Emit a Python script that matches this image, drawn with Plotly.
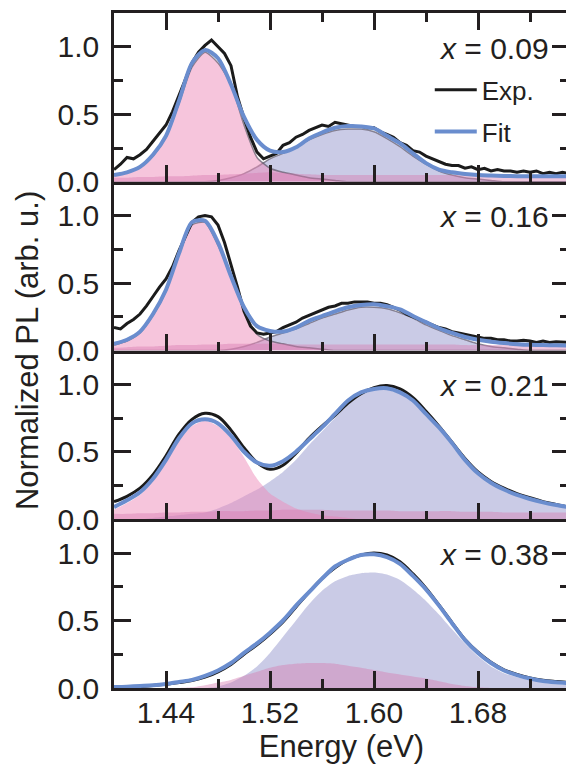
import plotly.graph_objects as go
from plotly.subplots import make_subplots

# ---------------- data ----------------
energy = [1.40, 1.41, 1.42, 1.43, 1.44, 1.45, 1.46, 1.47, 1.48, 1.49,
          1.50, 1.51, 1.52, 1.53, 1.54, 1.55, 1.56, 1.57, 1.58, 1.59,
          1.60, 1.61, 1.62, 1.63, 1.64, 1.65, 1.66, 1.67, 1.68, 1.69,
          1.70, 1.71, 1.72, 1.73, 1.74, 1.75]

energy_fine = [1.400, 1.405, 1.410, 1.415, 1.420, 1.425, 1.430, 1.435, 1.440, 1.445,
               1.450, 1.455, 1.460, 1.465, 1.470, 1.475, 1.480, 1.485, 1.490, 1.495,
               1.500, 1.505, 1.510, 1.515, 1.520, 1.525, 1.530, 1.535, 1.540, 1.545,
               1.550, 1.555, 1.560, 1.565, 1.570, 1.575, 1.580, 1.585, 1.590, 1.595,
               1.600, 1.605, 1.610, 1.615, 1.620, 1.625, 1.630, 1.635, 1.640, 1.645,
               1.650, 1.655, 1.660, 1.665, 1.670, 1.675, 1.680, 1.685, 1.690, 1.695,
               1.700, 1.705, 1.710, 1.715, 1.720, 1.725, 1.730, 1.735, 1.740, 1.745,
               1.750]

labels = ["0.09", "0.16", "0.21", "0.38"]

# x = 0.09
exp_009 = [0.09, 0.13, 0.18, 0.17, 0.20, 0.24, 0.30, 0.36, 0.42, 0.52,
           0.64, 0.76, 0.88, 0.96, 1.01, 1.05, 1.00, 0.95, 0.86, 0.63,
           0.47, 0.33, 0.22, 0.17, 0.19, 0.21, 0.27, 0.29, 0.33, 0.35,
           0.38, 0.40, 0.42, 0.41, 0.44, 0.43, 0.42, 0.41, 0.41, 0.40,
           0.40, 0.37, 0.35, 0.33, 0.29, 0.27, 0.23, 0.22, 0.19, 0.17,
           0.15, 0.13, 0.12, 0.12, 0.10, 0.11, 0.09, 0.10, 0.08, 0.09,
           0.08, 0.08, 0.07, 0.08, 0.07, 0.08, 0.06, 0.07, 0.06, 0.07,
           0.06]
fit_009 = [0.05, 0.07, 0.11, 0.20, 0.34, 0.60, 0.88, 0.975, 0.915, 0.72,
           0.48, 0.31, 0.23, 0.22, 0.255, 0.32, 0.365, 0.40, 0.413, 0.41,
           0.395, 0.34, 0.285, 0.21, 0.138, 0.09, 0.07, 0.058, 0.05, 0.046,
           0.043, 0.041, 0.04, 0.04, 0.04, 0.04]
peak1_009 = [0.05, 0.07, 0.11, 0.19, 0.33, 0.58, 0.85, 0.96, 0.88, 0.72,
             0.42, 0.18, 0.10, 0.07, 0.05, 0.03, 0.02, 0.01, 0.0, 0.0,
             0.0, 0.0, 0.0, 0.0, 0.0, 0.0, 0.0, 0.0, 0.0, 0.0,
             0.0, 0.0, 0.0, 0.0, 0.0, 0.0]
peak2_009 = [0.0, 0.0, 0.0, 0.0, 0.0, 0.0, 0.0, 0.0, 0.01, 0.03,
             0.06, 0.11, 0.17, 0.21, 0.26, 0.31, 0.35, 0.38, 0.39, 0.39,
             0.37, 0.32, 0.26, 0.19, 0.13, 0.08, 0.05, 0.03, 0.02, 0.01,
             0.0, 0.0, 0.0, 0.0, 0.0, 0.0]
bg_009 = [0.03, 0.03, 0.035, 0.035, 0.04, 0.04, 0.045, 0.05, 0.05, 0.055,
          0.06, 0.065, 0.07, 0.065, 0.06, 0.055, 0.05, 0.05, 0.05, 0.05,
          0.05, 0.05, 0.05, 0.05, 0.05, 0.05, 0.05, 0.05, 0.045, 0.045,
          0.045, 0.045, 0.045, 0.045, 0.045, 0.045]

# x = 0.16
exp_016 = [0.17, 0.16, 0.20, 0.23, 0.27, 0.33, 0.40, 0.47, 0.53, 0.62,
           0.74, 0.85, 0.95, 0.99, 1.00, 0.99, 0.93, 0.80, 0.64, 0.47,
           0.29, 0.18, 0.13, 0.12, 0.13, 0.14, 0.17, 0.19, 0.21, 0.24,
           0.26, 0.28, 0.30, 0.32, 0.33, 0.35, 0.35, 0.36, 0.36, 0.36,
           0.35, 0.35, 0.34, 0.32, 0.30, 0.27, 0.25, 0.23, 0.21, 0.19,
           0.17, 0.16, 0.14, 0.13, 0.12, 0.11, 0.10, 0.09, 0.09, 0.08,
           0.08, 0.07, 0.07, 0.075, 0.07, 0.06, 0.07, 0.06, 0.065, 0.06,
           0.06]
fit_016 = [0.05, 0.08, 0.14, 0.27, 0.45, 0.72, 0.95, 0.96, 0.80, 0.55,
           0.32, 0.18, 0.145, 0.14, 0.17, 0.22, 0.255, 0.29, 0.32, 0.337,
           0.343, 0.328, 0.305, 0.255, 0.21, 0.165, 0.13, 0.10, 0.08, 0.065,
           0.055, 0.047, 0.042, 0.04, 0.038, 0.037]
peak1_016 = [0.04, 0.07, 0.13, 0.26, 0.44, 0.71, 0.93, 0.95, 0.78, 0.55,
             0.30, 0.12, 0.07, 0.05, 0.03, 0.02, 0.01, 0.0, 0.0, 0.0,
             0.0, 0.0, 0.0, 0.0, 0.0, 0.0, 0.0, 0.0, 0.0, 0.0,
             0.0, 0.0, 0.0, 0.0, 0.0, 0.0]
peak2_016 = [0.0, 0.0, 0.0, 0.0, 0.0, 0.0, 0.0, 0.0, 0.0, 0.01,
             0.03, 0.06, 0.10, 0.13, 0.16, 0.20, 0.24, 0.27, 0.30, 0.32,
             0.32, 0.31, 0.28, 0.24, 0.19, 0.15, 0.11, 0.08, 0.05, 0.03,
             0.02, 0.01, 0.0, 0.0, 0.0, 0.0]
bg_016 = [0.02, 0.025, 0.03, 0.03, 0.035, 0.04, 0.04, 0.045, 0.045, 0.05,
          0.05, 0.05, 0.05, 0.05, 0.045, 0.045, 0.045, 0.045, 0.045, 0.045,
          0.045, 0.045, 0.045, 0.045, 0.045, 0.045, 0.045, 0.04, 0.04, 0.04,
          0.04, 0.04, 0.04, 0.04, 0.04, 0.04]

# x = 0.21
exp_021 = [0.13, 0.17, 0.23, 0.33, 0.47, 0.63, 0.74, 0.785, 0.76, 0.66,
           0.53, 0.42, 0.37, 0.40, 0.49, 0.60, 0.69, 0.77, 0.86, 0.93,
           0.975, 0.99, 0.965, 0.90, 0.80, 0.69, 0.57, 0.45, 0.35, 0.28,
           0.23, 0.19, 0.16, 0.13, 0.11, 0.09]
fit_021 = [0.09, 0.14, 0.20, 0.30, 0.44, 0.60, 0.71, 0.74, 0.71, 0.62,
           0.50, 0.42, 0.396, 0.43, 0.50, 0.59, 0.68, 0.78, 0.88, 0.94,
           0.965, 0.97, 0.94, 0.88, 0.78, 0.68, 0.565, 0.44, 0.34, 0.27,
           0.22, 0.18, 0.15, 0.125, 0.105, 0.09]
peak1_021 = [0.07, 0.12, 0.18, 0.28, 0.42, 0.58, 0.69, 0.73, 0.69, 0.60,
             0.46, 0.30, 0.19, 0.13, 0.08, 0.05, 0.03, 0.02, 0.01, 0.0,
             0.0, 0.0, 0.0, 0.0, 0.0, 0.0, 0.0, 0.0, 0.0, 0.0,
             0.0, 0.0, 0.0, 0.0, 0.0, 0.0]
peak2_021 = [0.0, 0.0, 0.0, 0.01, 0.02, 0.03, 0.04, 0.05, 0.08, 0.12,
             0.17, 0.22, 0.28, 0.35, 0.44, 0.55, 0.65, 0.75, 0.85, 0.92,
             0.955, 0.96, 0.93, 0.87, 0.77, 0.665, 0.55, 0.43, 0.33, 0.26,
             0.21, 0.17, 0.14, 0.115, 0.095, 0.08]
bg_021 = [0.04, 0.04, 0.045, 0.045, 0.05, 0.05, 0.055, 0.055, 0.06, 0.06,
          0.06, 0.065, 0.065, 0.07, 0.07, 0.07, 0.07, 0.065, 0.065, 0.065,
          0.065, 0.065, 0.06, 0.06, 0.06, 0.06, 0.06, 0.055, 0.055, 0.055,
          0.05, 0.05, 0.05, 0.05, 0.05, 0.05]

# x = 0.38
exp_038 = [0.005, 0.008, 0.012, 0.018, 0.027, 0.04, 0.055, 0.08, 0.12, 0.175,
           0.25, 0.32, 0.40, 0.49, 0.60, 0.71, 0.81, 0.89, 0.95, 0.985,
           1.0, 0.985, 0.935, 0.845, 0.74, 0.615, 0.485, 0.36, 0.265, 0.19,
           0.135, 0.10, 0.075, 0.058, 0.048, 0.04]
fit_038 = [0.007, 0.01, 0.015, 0.02, 0.03, 0.045, 0.06, 0.09, 0.13, 0.185,
           0.26, 0.33, 0.41, 0.50, 0.61, 0.71, 0.81, 0.90, 0.95, 0.985,
           0.99, 0.97, 0.92, 0.83, 0.73, 0.61, 0.48, 0.355, 0.26, 0.185,
           0.13, 0.095, 0.07, 0.052, 0.042, 0.035]
peak2_038 = [0.0, 0.0, 0.0, 0.0, 0.0, 0.0, 0.0, 0.0, 0.01, 0.04,
             0.09, 0.16, 0.26, 0.38, 0.50, 0.62, 0.72, 0.79, 0.83, 0.85,
             0.855, 0.84, 0.80, 0.73, 0.645, 0.545, 0.435, 0.33, 0.235, 0.16,
             0.11, 0.08, 0.06, 0.045, 0.03, 0.02]
bg_038 = [0.0, 0.0, 0.0, 0.0, 0.0, 0.0, 0.005, 0.02, 0.04, 0.06,
          0.09, 0.12, 0.15, 0.17, 0.18, 0.185, 0.185, 0.18, 0.165, 0.15,
          0.133, 0.115, 0.10, 0.085, 0.07, 0.05, 0.03, 0.015, 0.005, 0.0,
          0.0, 0.0, 0.0, 0.0, 0.0, 0.0]

panels = [
    dict(label=labels[0], exp=exp_009, exp_x=energy_fine, fit=fit_009, p1=peak1_009, p2=peak2_009, bg=bg_009, edge=True),
    dict(label=labels[1], exp=exp_016, exp_x=energy_fine, fit=fit_016, p1=peak1_016, p2=peak2_016, bg=bg_016, edge=True),
    dict(label=labels[2], exp=exp_021, exp_x=energy, fit=fit_021, p1=peak1_021, p2=peak2_021, bg=bg_021, edge=False),
    dict(label=labels[3], exp=exp_038, exp_x=energy, fit=fit_038, p1=None, p2=peak2_038, bg=bg_038, edge=False),
]

# ---------------- styles ----------------
FONT = "Liberation Sans, Arial, Helvetica, sans-serif"
TXT = "#231f20"
BLUE = "#6a8dce"
BLACK = "#1b1b1b"
PINK = "rgba(238,140,185,0.5)"
LAV = "rgba(150,152,205,0.5)"
BG = "rgba(215,120,175,0.42)"
EDGE = "rgba(95,88,105,0.7)"

fig = make_subplots(rows=4, cols=1, shared_xaxes=True, vertical_spacing=0)

for i, p in enumerate(panels):
    r = i + 1
    plain = dict(width=0, shape="spline", smoothing=0.6)
    edge_line = dict(color=EDGE, width=1.5, shape="spline", smoothing=0.6) if p["edge"] else plain
    fig.add_trace(go.Scatter(x=energy, y=p["p2"], mode="lines", fill="tozeroy",
                             fillcolor=LAV, line=edge_line, showlegend=False,
                             hoverinfo="skip"), row=r, col=1)
    if p["p1"] is not None:
        fig.add_trace(go.Scatter(x=energy, y=p["p1"], mode="lines", fill="tozeroy",
                                 fillcolor=PINK, line=edge_line,
                                 showlegend=False, hoverinfo="skip"), row=r, col=1)
    fig.add_trace(go.Scatter(x=energy, y=p["bg"], mode="lines", fill="tozeroy",
                             fillcolor=BG, line=plain,
                             showlegend=False, hoverinfo="skip"), row=r, col=1)
    fig.add_trace(go.Scatter(x=p["exp_x"], y=p["exp"], mode="lines", name="Exp.",
                             legendgroup="exp",
                             line=dict(color=BLACK, width=3,
                                       shape="linear" if i < 2 else "spline"),
                             showlegend=(i == 0), legendrank=1), row=r, col=1)
    fig.add_trace(go.Scatter(x=energy, y=p["fit"], mode="lines", name="Fit",
                             legendgroup="fit",
                             line=dict(color=BLUE, width=4, shape="spline", smoothing=0.8),
                             showlegend=(i == 0), legendrank=2), row=r, col=1)
    fig.add_annotation(text="<i>x</i> = " + p["label"], xref="x domain", yref="y",
                       x=0.961, y=0.99, xanchor="right", yanchor="middle",
                       showarrow=False, font=dict(size=30, color=TXT, family=FONT),
                       row=r, col=1)

for i in range(4):
    r = i + 1
    fig.update_xaxes(range=[1.40, 1.75], showline=True, linecolor=TXT, linewidth=2.5,
                     mirror="allticks" if i == 0 else False,
                     ticks="inside", ticklen=17, tickwidth=2.5, tickcolor=TXT,
                     tick0=1.44, dtick=0.08, tickformat=".2f",
                     minor=dict(ticks="inside", ticklen=9, tickwidth=2.5, tickcolor=TXT,
                                tick0=1.40, dtick=0.04),
                     showgrid=False, zeroline=False,
                     showticklabels=(i == 3),
                     tickfont=dict(size=30, color=TXT, family=FONT),
                     ticklabelstandoff=-4,
                     row=r, col=1)
    fig.update_yaxes(range=[0, 1.25], showline=True, linecolor=TXT, linewidth=2.5,
                     mirror="allticks", ticks="inside", ticklen=17, tickwidth=2.5,
                     tickcolor=TXT, tick0=0, dtick=0.5, tickformat=".1f",
                     minor=dict(ticks="inside", ticklen=9, tickwidth=2.5, tickcolor=TXT,
                                tick0=0, dtick=0.25),
                     showgrid=False, zeroline=False,
                     tickfont=dict(size=30, color=TXT, family=FONT),
                     ticklabelstandoff=6,
                     row=r, col=1)

fig.update_xaxes(title=dict(text="Energy (eV)", font=dict(size=31, color=TXT, family=FONT),
                            standoff=0), row=4, col=1)

fig.add_annotation(text="Normalized PL (arb. u.)", xref="paper", yref="paper",
                   x=-0.19, y=0.5, xanchor="center", yanchor="middle", textangle=-90,
                   showarrow=False, font=dict(size=31, color=TXT, family=FONT))

# the page adds an 8 px body margin, so the figure is 8 px smaller than the window
fig.update_layout(
    width=566, height=757,
    margin=dict(l=106, r=2, t=5, b=77),
    paper_bgcolor="white", plot_bgcolor="white",
    font=dict(family=FONT, color=TXT),
    showlegend=True,
    legend=dict(x=0.694, y=0.921, xanchor="left", yanchor="top",
                bgcolor="rgba(0,0,0,0)", borderwidth=0,
                font=dict(size=26, color=TXT, family=FONT),
                itemwidth=42, tracegroupgap=5),
)

fig.write_html("out.html")
